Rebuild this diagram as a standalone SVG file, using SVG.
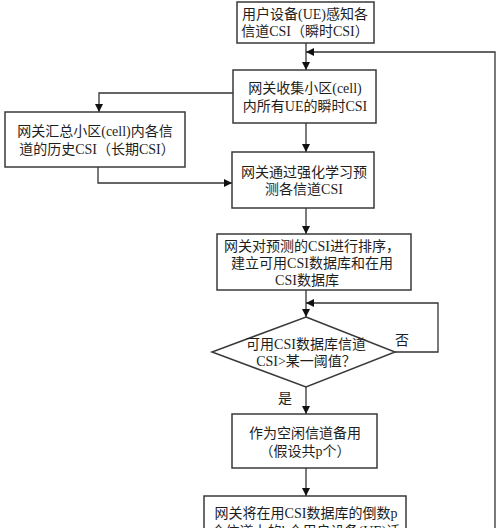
<svg xmlns="http://www.w3.org/2000/svg" width="500" height="528" viewBox="0 0 500 528">
<defs>
<style>
.box{fill:#fff;stroke:#3a3a3a;stroke-width:1.5}
.ln{fill:none;stroke:#333;stroke-width:1.3}
text{font-family:"Liberation Serif","Noto Sans CJK SC",serif;font-size:14px;fill:#1e1e1e;text-anchor:middle}
</style>
<marker id="ah" viewBox="0 0 10 10" refX="10" refY="5" markerWidth="8" markerHeight="8" markerUnits="userSpaceOnUse" orient="auto">
<path d="M0,0 L10,5 L0,10 z" fill="#111"/>
</marker>
</defs>
<rect width="500" height="528" fill="#fff"/>
<g id="connectors">
<path class="ln" d="M306,43 V70" marker-end="url(#ah)"/>
<path class="ln" d="M495,528 V52 H306" marker-end="url(#ah)"/>
<path class="ln" d="M233,93 H99 V112" marker-end="url(#ah)"/>
<path class="ln" d="M98,167 V183 H232" marker-end="url(#ah)"/>
<path class="ln" d="M306,123 V152" marker-end="url(#ah)"/>
<path class="ln" d="M306,208 V234" marker-end="url(#ah)"/>
<path class="ln" d="M306,290 V317" marker-end="url(#ah)"/>
<path class="ln" d="M395,352 H438 V303 H306" marker-end="url(#ah)"/>
<path class="ln" d="M306,387 V414" marker-end="url(#ah)"/>
<path class="ln" d="M306,468 V496" marker-end="url(#ah)"/>
<text x="402" y="345">否</text>
<text x="285" y="403">是</text>
</g>
<g id="n1">
<rect class="box" x="237" y="2" width="137" height="41"/>
<text x="305" y="19">用户设备(UE)感知各</text>
<text x="305" y="36">信道CSI（瞬时CSI）</text>
</g>
<g id="n2">
<rect class="box" x="233" y="70" width="143" height="53"/>
<text x="305" y="93">网关收集小区(cell)</text>
<text x="305" y="111">内所有UE的瞬时CSI</text>
</g>
<g id="n3">
<rect class="box" x="5" y="112" width="180" height="55"/>
<text x="95" y="136">网关汇总小区(cell)内各信</text>
<text x="97" y="154">道的历史CSI（长期CSI）</text>
</g>
<g id="n4">
<rect class="box" x="232" y="152" width="142" height="56"/>
<text x="304" y="177">网关通过强化学习预</text>
<text x="304" y="194">测各信道CSI</text>
</g>
<g id="n5">
<rect class="box" x="217" y="234" width="194" height="56"/>
<text x="312" y="251">网关对预测的CSI进行排序，</text>
<text x="312" y="268">建立可用CSI数据库和在用</text>
<text x="307" y="285">CSI数据库</text>
</g>
<g id="n6">
<polygon class="box" points="306,317 395,352 306,387 212,352"/>
<text x="306" y="349">可用CSI数据库信道</text>
<text x="306" y="366">CSI&gt;某一阈值？</text>
</g>
<g id="n7">
<rect class="box" x="232" y="414" width="145" height="54"/>
<text x="305" y="438">作为空闲信道备用</text>
<text x="305" y="456">（假设共p个）</text>
</g>
<g id="n8">
<rect class="box" x="204" y="496" width="202" height="50"/>
<text x="306" y="518">网关将在用CSI数据库的倒数p</text>
<text x="306" y="536">个信道上的k个用户设备(UE)迁</text>
</g>
</svg>
